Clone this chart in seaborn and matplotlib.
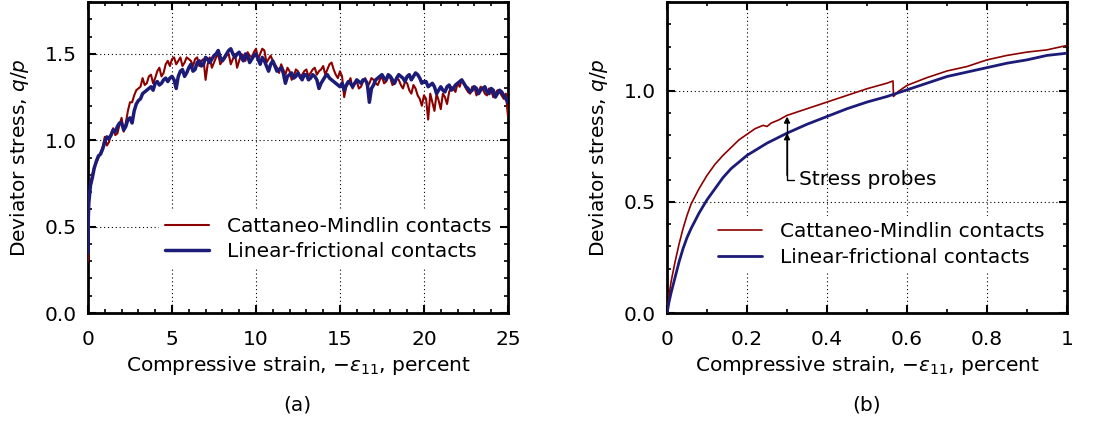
import numpy as np
import pandas as pd
import matplotlib
matplotlib.use("Agg")
import matplotlib.pyplot as plt
from matplotlib.ticker import MultipleLocator, FormatStrFormatter
import seaborn as sns

sns.set_style("ticks")
plt.rcParams['font.family'] = ['DejaVu Sans']
plt.rcParams['mathtext.fontset'] = 'dejavusans'
for k in ['text.color', 'axes.labelcolor', 'xtick.color', 'ytick.color']:
    plt.rcParams[k] = 'black'

# ---------------- data: panel (a) ----------------
strain_a_start = [0.0, 0.02, 0.05, 0.1, 0.15]
cm_a_start = [0.30, 0.52, 0.63, 0.70, 0.75]
lf_a_start = [0.35, 0.55, 0.64, 0.69, 0.74]
strain_a_grid = np.arange(0.25, 25.001, 0.25)
cm_a = [0.80, 0.87, 0.93, 1.02, 0.99, 1.07, 1.04, 1.13, 1.10, 1.22,
        1.26, 1.30, 1.36, 1.33, 1.38, 1.36, 1.42, 1.39, 1.46, 1.47,
        1.44, 1.48, 1.45, 1.47, 1.43, 1.48, 1.46, 1.35, 1.48, 1.45,
        1.50, 1.46, 1.49, 1.44, 1.50, 1.46, 1.49, 1.51, 1.48, 1.53,
        1.50, 1.52, 1.47, 1.46, 1.42, 1.44, 1.38, 1.40, 1.37, 1.40,
        1.38, 1.41, 1.39, 1.42, 1.40, 1.43, 1.41, 1.45, 1.38, 1.40,
        1.25, 1.33, 1.30, 1.34, 1.31, 1.36, 1.33, 1.35, 1.32, 1.37,
        1.34, 1.36, 1.33, 1.35, 1.30, 1.33, 1.27, 1.30, 1.24, 1.26,
        1.12, 1.22, 1.27, 1.18, 1.25, 1.28, 1.30, 1.33, 1.35, 1.30,
        1.27, 1.31, 1.28, 1.30, 1.26, 1.29, 1.27, 1.28, 1.24, 1.14]
lf_a = [0.78, 0.88, 0.92, 0.99, 1.01, 1.06, 1.08, 1.10, 1.08, 1.13,
        1.17, 1.23, 1.27, 1.29, 1.31, 1.33, 1.32, 1.35, 1.34, 1.37,
        1.30, 1.40, 1.37, 1.42, 1.40, 1.45, 1.43, 1.48, 1.45, 1.49,
        1.52, 1.46, 1.50, 1.53, 1.48, 1.51, 1.46, 1.49, 1.47, 1.50,
        1.44, 1.46, 1.40, 1.46, 1.40, 1.42, 1.33, 1.38, 1.36, 1.39,
        1.35, 1.38, 1.36, 1.37, 1.30, 1.35, 1.38, 1.35, 1.33, 1.31,
        1.29, 1.34, 1.31, 1.35, 1.33, 1.35, 1.22, 1.32, 1.36, 1.38,
        1.35, 1.37, 1.33, 1.38, 1.36, 1.37, 1.35, 1.39, 1.36, 1.34,
        1.31, 1.33, 1.27, 1.31, 1.28, 1.32, 1.30, 1.33, 1.35, 1.31,
        1.28, 1.31, 1.27, 1.30, 1.28, 1.30, 1.25, 1.29, 1.26, 1.22]
strain_a_mid = np.arange(0.375, 24.9, 0.25)
cm_a_mid = [0.85, 0.90, 0.96, 0.97, 1.04, 1.03, 1.09, 1.05, 1.17, 1.22,
            1.29, 1.31, 1.32, 1.37, 1.33, 1.40, 1.37, 1.44, 1.43, 1.48,
            1.46, 1.43, 1.48, 1.46, 1.47, 1.43, 1.47, 1.44, 1.42, 1.48,
            1.44, 1.47, 1.50, 1.47, 1.42, 1.50, 1.46, 1.49, 1.51, 1.47,
            1.53, 1.45, 1.49, 1.44, 1.39, 1.41, 1.42, 1.35, 1.41, 1.36,
            1.40, 1.37, 1.41, 1.38, 1.41, 1.38, 1.44, 1.41, 1.36, 1.37,
            1.31, 1.36, 1.33, 1.30, 1.34, 1.31, 1.36, 1.33, 1.35, 1.33,
            1.37, 1.32, 1.36, 1.32, 1.34, 1.29, 1.32, 1.26, 1.20, 1.24,
            1.27, 1.17, 1.23, 1.27, 1.21, 1.31, 1.28, 1.31, 1.33, 1.28,
            1.31, 1.26, 1.31, 1.27, 1.30, 1.25, 1.29, 1.26, 1.27]
lf_a_mid = [0.84, 0.91, 0.95, 1.02, 1.03, 1.05, 1.10, 1.06, 1.12, 1.10,
            1.21, 1.24, 1.28, 1.30, 1.29, 1.34, 1.33, 1.36, 1.36, 1.35,
            1.37, 1.41, 1.39, 1.44, 1.41, 1.46, 1.44, 1.47, 1.47, 1.50,
            1.48, 1.48, 1.52, 1.50, 1.50, 1.48, 1.50, 1.45, 1.49, 1.47,
            1.48, 1.43, 1.44, 1.43, 1.41, 1.39, 1.37, 1.39, 1.37, 1.37,
            1.38, 1.35, 1.38, 1.35, 1.33, 1.37, 1.36, 1.34, 1.32, 1.33,
            1.32, 1.33, 1.33, 1.34, 1.35, 1.33, 1.30, 1.35, 1.37, 1.36,
            1.38, 1.35, 1.36, 1.37, 1.34, 1.38, 1.37, 1.38, 1.33, 1.34,
            1.32, 1.31, 1.29, 1.29, 1.31, 1.29, 1.32, 1.34, 1.33, 1.30,
            1.29, 1.30, 1.29, 1.31, 1.27, 1.29, 1.27, 1.28, 1.24]

# ---------------- data: panel (b) ----------------
strain_b_cm = [0, 0.005, 0.01, 0.02, 0.03, 0.04, 0.05, 0.06, 0.08, 0.1,
               0.12, 0.14, 0.16, 0.18, 0.2, 0.22, 0.24, 0.25, 0.26, 0.28,
               0.3, 0.35, 0.4, 0.45, 0.5, 0.55, 0.565, 0.566, 0.58, 0.6,
               0.65, 0.7, 0.75, 0.8, 0.85, 0.9, 0.95, 1.0]
cm_b = [0, 0.08, 0.14, 0.23, 0.31, 0.38, 0.44, 0.49, 0.56, 0.62,
        0.67, 0.71, 0.745, 0.78, 0.805, 0.83, 0.845, 0.84, 0.855, 0.87,
        0.89, 0.92, 0.95, 0.98, 1.01, 1.035, 1.045, 0.975, 1.0, 1.025,
        1.06, 1.09, 1.11, 1.14, 1.16, 1.175, 1.185, 1.205]
strain_b_lf = [0, 0.005, 0.01, 0.02, 0.03, 0.04, 0.05, 0.06, 0.08, 0.1,
               0.12, 0.14, 0.16, 0.18, 0.2, 0.25, 0.3, 0.35, 0.4, 0.45,
               0.5, 0.55, 0.6, 0.65, 0.7, 0.75, 0.8, 0.85, 0.9, 0.95, 1.0]
lf_b = [0, 0.05, 0.09, 0.16, 0.23, 0.29, 0.34, 0.38, 0.45, 0.51,
        0.56, 0.61, 0.65, 0.68, 0.71, 0.765, 0.81, 0.85, 0.885, 0.92,
        0.95, 0.975, 1.005, 1.035, 1.065, 1.085, 1.105, 1.125, 1.14, 1.16, 1.17]

labels = ["Cattaneo-Mindlin contacts", "Linear-frictional contacts"]
RED = "#8c0000"
BLUE = "#1c1c78"

fig = plt.figure(figsize=(11.11, 4.23), dpi=100)
axA = fig.add_axes([0.0792, 0.26, 0.378, 0.735])
axB = fig.add_axes([0.6004, 0.26, 0.36, 0.735])

xa = list(strain_a_start) + list(strain_a_grid) + list(strain_a_mid)
dfA_cm = pd.DataFrame({"x": xa, "y": cm_a_start + cm_a + cm_a_mid}).sort_values("x")
dfA_lf = pd.DataFrame({"x": xa, "y": lf_a_start + lf_a + lf_a_mid}).sort_values("x")
sns.lineplot(data=dfA_cm, x="x", y="y", ax=axA, color=RED, lw=1.5, estimator=None,
             label=labels[0], zorder=3)
sns.lineplot(data=dfA_lf, x="x", y="y", ax=axA, color=BLUE, lw=2.5, estimator=None,
             label=labels[1], zorder=4)

dfB_cm = pd.DataFrame({"x": strain_b_cm, "y": cm_b})
dfB_lf = pd.DataFrame({"x": strain_b_lf, "y": lf_b})
sns.lineplot(data=dfB_cm, x="x", y="y", ax=axB, color=RED, lw=1.2, estimator=None,
             label=labels[0], zorder=3)
sns.lineplot(data=dfB_lf, x="x", y="y", ax=axB, color=BLUE, lw=2.0, estimator=None,
             label=labels[1], zorder=4)

FS = 14.5
for ax, xlim, ylim, xmaj, xmin_, fmt_x in [
        (axA, (0, 25), (0, 1.8), 5, 1, "%d"),
        (axB, (0, 1), (0, 1.4), 0.2, 0.1, None)]:
    ax.set_xlim(*xlim)
    ax.set_ylim(*ylim)
    ax.xaxis.set_major_locator(MultipleLocator(xmaj))
    ax.xaxis.set_minor_locator(MultipleLocator(xmin_))
    ax.yaxis.set_major_locator(MultipleLocator(0.5))
    ax.yaxis.set_minor_locator(MultipleLocator(0.1))
    ax.yaxis.set_major_formatter(FormatStrFormatter("%.1f"))
    if fmt_x:
        ax.xaxis.set_major_formatter(FormatStrFormatter(fmt_x))
    else:
        ax.xaxis.set_major_formatter(plt.FuncFormatter(lambda v, p: "%g" % round(v, 2)))
    ax.tick_params(which="both", direction="in", top=True, right=True, labelsize=FS, color="black")
    ax.tick_params(which="major", length=6, width=1.5)
    ax.tick_params(axis="y", which="major", pad=8)
    ax.tick_params(axis="x", which="major", pad=12.5)
    ax.tick_params(which="minor", length=3, width=1.2)
    for s in ax.spines.values():
        s.set_linewidth(2)
        s.set_color("black")
    ax.grid(True, which="major", color="black", linestyle=(0, (1, 2.5)), linewidth=0.8)
    ax.set_axisbelow(True)
    ax.set_xlabel(r"Compressive strain, $-\varepsilon_{11}$, percent", fontsize=FS, labelpad=3)
    ax.set_ylabel(r"Deviator stress, $q/p$", fontsize=FS, labelpad=10)

legA = axA.legend(loc="lower right", bbox_to_anchor=(1.0, 0.115), fontsize=FS, frameon=True,
                  handlelength=2.2, handletextpad=0.9, labelspacing=0.3, borderpad=0.3)
legA.get_frame().set_edgecolor("none")
legA.get_frame().set_facecolor("white")
legA.get_frame().set_alpha(1)
legA.set_zorder(5)

legB = axB.legend(loc="lower right", bbox_to_anchor=(0.985, 0.095), fontsize=FS, frameon=True,
                  handlelength=2.2, handletextpad=0.9, labelspacing=0.35, borderpad=0.3)
legB.get_frame().set_edgecolor("none")
legB.get_frame().set_facecolor("white")
legB.get_frame().set_alpha(1)
legB.set_zorder(5)

# annotation: stress probes
axB.annotate("Stress probes", xy=(0.3, 0.885), xytext=(0.33, 0.60),
             fontsize=FS, va="center", ha="left",
             arrowprops=dict(arrowstyle="-|>", color="black", lw=1, mutation_scale=9,
                             connectionstyle="angle,angleA=0,angleB=90,rad=0",
                             relpos=(0, 0.5), shrinkA=1, shrinkB=0), zorder=6)
axB.annotate("", xy=(0.3, 0.81), xytext=(0.3, 0.62),
             arrowprops=dict(arrowstyle="-|>", color="black", lw=1, mutation_scale=9,
                             shrinkA=0, shrinkB=0), zorder=6)

fig.text(0.268, 0.043, "(a)", ha="center", va="center", fontsize=FS)
fig.text(0.780, 0.043, "(b)", ha="center", va="center", fontsize=FS)

fig.savefig("out.png", dpi=100)
